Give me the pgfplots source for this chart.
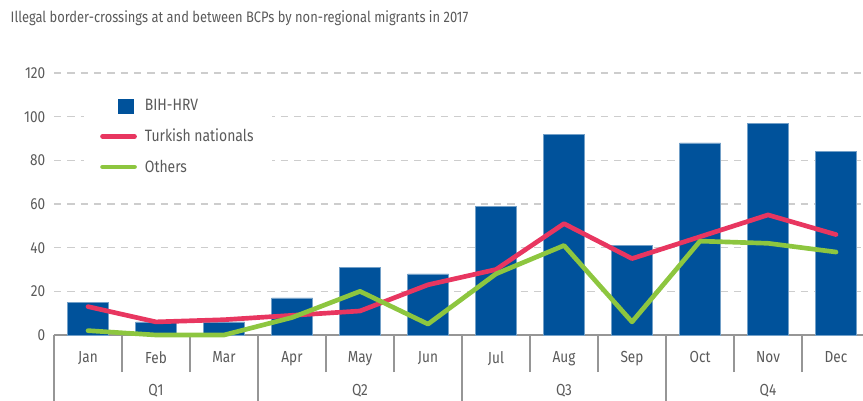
\documentclass[border=0pt]{standalone}
\usepackage{pgfplots}
\pgfplotsset{compat=1.18}
\usepackage{fontspec}
\setmainfont{Fira Sans}[FakeStretch=0.85]
\definecolor{barblue}{RGB}{0,82,155}
\definecolor{pinkc}{RGB}{232,54,96}
\definecolor{greenc}{RGB}{141,198,63}
\definecolor{textgray}{RGB}{90,90,90}
\definecolor{axgray}{RGB}{150,150,150}
\definecolor{gridgray}{RGB}{205,205,205}
\begin{document}
\begin{tikzpicture}
\useasboundingbox (0,0) rectangle (647.25pt,300pt);
\clip (0,0) rectangle (647.25pt,300pt);
\node[anchor=west, text=textgray, font=\fontsize{11.4}{13}\selectfont] at (4.5pt,286.5pt) {Illegal border-crossings at and between BCPs by non-regional migrants in 2017};
\begin{axis}[
  at={(40.5pt,48.75pt)}, anchor=south west, scale only axis,
  width=606.75pt, height=196.5pt,
  xmin=-0.5, xmax=11.397, ymin=0, ymax=120,
  clip=false,
  axis x line*=bottom, axis y line*=left,
  y axis line style={draw=none},
  x axis line style={draw=axgray, line width=1pt, -},
  ytick={0,20,...,120},
  ymajorgrids,
  grid style={gridgray, line width=1pt, dash pattern=on 5.5pt off 4.5pt},
  ytick style={draw=none},
  xtick={0,...,11},
  xticklabels={Jan,Feb,Mar,Apr,May,Jun,Jul,Aug,Sep,Oct,Nov,Dec},
  minor xtick={0.5,1.5,3.5,4.5,6.5,7.5,9.5,10.5},
  extra x ticks={-0.5,2.5,5.5,8.5},
  extra x tick labels={},
  extra x tick style={major tick length=52pt, tick style={axgray, line width=1pt}},
  tick align=outside,
  major tick length=0pt,
  minor tick length=27.75pt,
  tick style={axgray, line width=1pt},
  /pgf/number format/assume math mode=true,
  tick label style={text=textgray, font=\fontsize{12}{14}\selectfont},
  xticklabel style={yshift=-9pt},
  yticklabel style={xshift=-3pt},
  legend style={at={(0.037,0.94)}, anchor=north west, fill=white, draw=none,
    font=\fontsize{12.3}{14}\selectfont, text=textgray, row sep=8pt,
    inner xsep=12pt, inner ysep=6pt,
    /tikz/every even column/.append style={column sep=2pt},
    /tikz/every odd column/.append style={column sep=4pt}},
  legend cell align=left,
]
\addplot[ybar, bar width=30.75pt, fill=barblue, draw=barblue!55, line width=0.5pt,
  legend image code/.code={\fill[barblue] (12pt,-5.6pt) rectangle (23.25pt,5.6pt);}]
  coordinates {(0,15) (1,6) (2,6) (3,17) (4,31) (5,28) (6,59) (7,92) (8,41) (9,88) (10,97) (11,84)};
\addlegendentry{BIH-HRV}
\addplot[sharp plot, pinkc, line width=3.5pt, line cap=round, line join=round,
  legend image code/.code={\draw[pinkc, line width=3.5pt, line cap=round] (0pt,0pt) -- (24pt,0pt);}]
  coordinates {(0,13) (1,6) (2,7) (3,9) (4,11) (5,23) (6,30) (7,51) (8,35) (9,45) (10,55) (11,46)};
\addlegendentry{Turkish nationals}
\addplot[sharp plot, greenc, line width=3.5pt, line cap=round, line join=round,
  legend image code/.code={\draw[greenc, line width=3.5pt, line cap=round] (0pt,0pt) -- (24pt,0pt);}]
  coordinates {(0,2) (1,0) (2,0) (3,8) (4,20) (5,5) (6,28) (7,41) (8,6) (9,43) (10,42) (11,38)};
\addlegendentry{Others}
\node[text=textgray, font=\fontsize{12}{14}\selectfont, yshift=-41.5pt] at (axis cs:1,0) {Q1};
\node[text=textgray, font=\fontsize{12}{14}\selectfont, yshift=-41.5pt] at (axis cs:4,0) {Q2};
\node[text=textgray, font=\fontsize{12}{14}\selectfont, yshift=-41.5pt] at (axis cs:7,0) {Q3};
\node[text=textgray, font=\fontsize{12}{14}\selectfont, yshift=-41.5pt] at (axis cs:10,0) {Q4};
\end{axis}
\end{tikzpicture}
\end{document}
